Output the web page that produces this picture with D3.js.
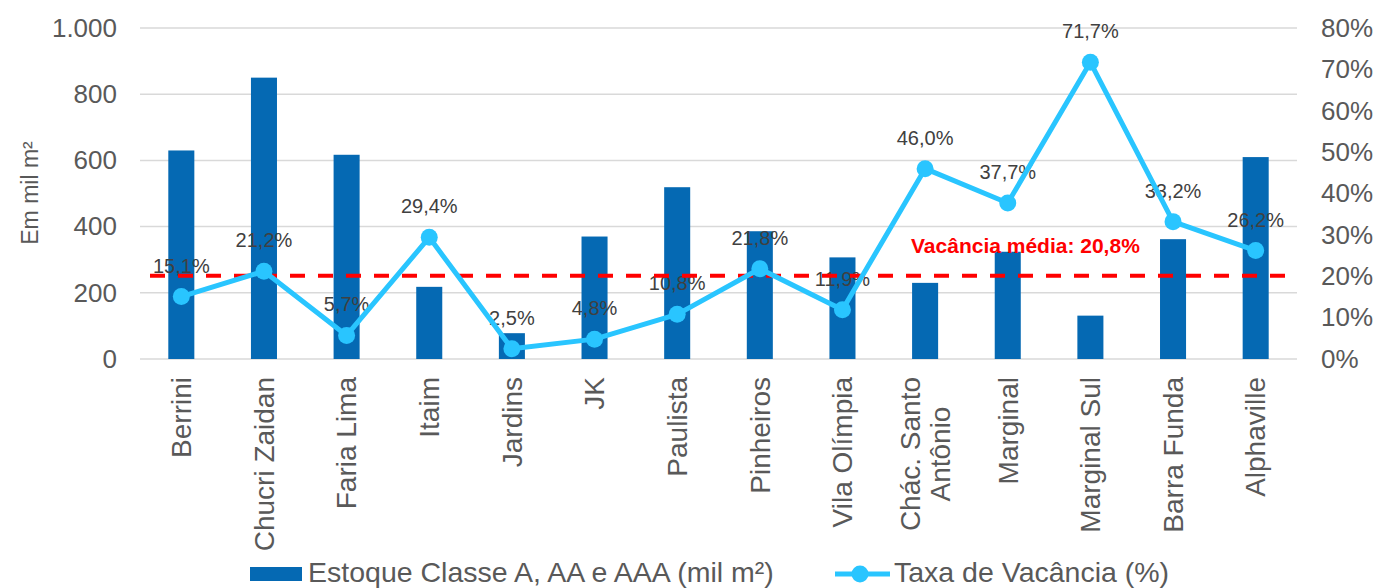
<!DOCTYPE html>
<html>
<head>
<meta charset="utf-8">
<script src="https://cdn.jsdelivr.net/npm/d3@7"></script>
<style>
  html, body { margin: 0; padding: 0; background: #fff; }
  svg { display: block; font-family: "Liberation Sans", Arial, sans-serif; }
</style>
</head>
<body>
<svg id="chart" width="1382" height="588"></svg>
<script>
// ---- data ----
const categories = ["Berrini", "Chucri Zaidan", "Faria Lima", "Itaim", "Jardins", "JK", "Paulista",
  "Pinheiros", "Vila Olímpia", "Chác. Santo\nAntônio", "Marginal", "Marginal Sul", "Barra Funda", "Alphaville"];
const stock = [630, 850, 617, 218, 78, 370, 519, 386, 307, 230, 324, 131, 362, 610];
const vacancy = [15.1, 21.2, 5.7, 29.4, 2.5, 4.8, 10.8, 21.8, 11.9, 46.0, 37.7, 71.7, 33.2, 26.2];
const leftTicks = [0, 200, 400, 600, 800, 1000];
const rightTicks = [0, 10, 20, 30, 40, 50, 60, 70, 80];
const avgVacancyLabel = "Vacância média: 20,8%";
const avgLineValue = 20.1;
const seriesNames = ["Estoque Classe A, AA e AAA (mil m²)", "Taxa de Vacância (%)"];
const leftAxisTitle = "Em mil m²";

// ---- styles ----
const barColor = "#0569b3";
const lineColor = "#29c5ff";
const gridColor = "#d9d9d9";
const axisText = "#595959";
const labelText = "#404040";

const svg = d3.select("#chart");
const plot = { left: 140, right: 1297, top: 28, bottom: 359 };

const x = d3.scaleBand().domain(categories).range([plot.left, plot.right])
  .paddingInner(0.685).paddingOuter(0.3425);
const yL = d3.scaleLinear().domain([0, 1000]).range([plot.bottom, plot.top]);
const yR = d3.scaleLinear().domain([0, 80]).range([plot.bottom, plot.top]);
const cx = c => x(c) + x.bandwidth() / 2;

const fmtL = d3.formatLocale({ decimal: ",", thousands: ".", grouping: [3], currency: ["", ""] }).format(",.0f");
const fmtPct = v => v.toFixed(1).replace(".", ",") + "%";

// gridlines
svg.append("g").selectAll("line").data(leftTicks).join("line")
  .attr("x1", plot.left).attr("x2", plot.right)
  .attr("y1", d => yL(d)).attr("y2", d => yL(d))
  .attr("stroke", gridColor).attr("stroke-width", 1.5);

// left axis
const axL = d3.axisLeft(yL).tickValues(leftTicks).tickFormat(fmtL).tickSize(0).tickPadding(0);
svg.append("g").attr("transform", `translate(117,0)`).call(axL)
  .call(g => g.select(".domain").remove())
  .selectAll("text").attr("fill", axisText).attr("font-size", 26).attr("font-family", "Liberation Sans, Arial, sans-serif");

// right axis
const axR = d3.axisRight(yR).tickValues(rightTicks).tickFormat(d => d + "%").tickSize(0).tickPadding(0);
svg.append("g").attr("transform", `translate(1321,0)`).call(axR)
  .call(g => g.select(".domain").remove())
  .selectAll("text").attr("fill", axisText).attr("font-size", 26).attr("font-family", "Liberation Sans, Arial, sans-serif");

// left axis title
svg.append("text").attr("transform", "translate(38,193) rotate(-90)")
  .attr("text-anchor", "middle").attr("fill", axisText).attr("font-size", 23)
  .text(leftAxisTitle);

// bars
svg.append("g").selectAll("rect").data(stock).join("rect")
  .attr("x", (d, i) => x(categories[i])).attr("width", x.bandwidth())
  .attr("y", d => yL(d)).attr("height", d => yL(0) - yL(d))
  .attr("fill", barColor);

// category labels
const catG = svg.append("g");
categories.forEach(c => {
  const lines = c.split("\n");
  const t = catG.append("text")
    .attr("transform", `translate(${cx(c)},377) rotate(-90)`)
    .attr("fill", axisText).attr("font-size", 28);
  if (lines.length === 1) {
    t.attr("text-anchor", "end").attr("dy", "0.35em").text(c);
  } else {
    const spans = lines.map((l, k) => t.append("tspan").attr("text-anchor", "middle")
      .attr("y", 0).attr("dy", (9.8 + (k - (lines.length - 1) / 2) * 30) + "px").text(l));
    const maxLen = d3.max(spans, s => s.node().getComputedTextLength());
    spans.forEach(s => s.attr("x", -maxLen / 2));
  }
});

// data labels
svg.append("g").selectAll("text").data(vacancy).join("text")
  .attr("x", (d, i) => cx(categories[i])).attr("y", d => yR(d) - 24)
  .attr("text-anchor", "middle").attr("fill", labelText).attr("font-size", 20)
  .text(fmtPct);

// average line
svg.append("line").attr("x1", 150).attr("x2", plot.right)
  .attr("y1", yR(avgLineValue)).attr("y2", yR(avgLineValue))
  .attr("stroke", "#ff0000").attr("stroke-width", 4).attr("stroke-dasharray", "15,13");

// vacancy line
const line = d3.line().x((d, i) => cx(categories[i])).y(d => yR(d));
svg.append("path").datum(vacancy).attr("d", line)
  .attr("fill", "none").attr("stroke", lineColor).attr("stroke-width", 5).attr("stroke-linejoin", "round");
svg.append("g").selectAll("circle").data(vacancy).join("circle")
  .attr("cx", (d, i) => cx(categories[i])).attr("cy", d => yR(d)).attr("r", 8.5)
  .attr("fill", lineColor);

// average label
svg.append("text").attr("x", 911).attr("y", 253)
  .attr("fill", "#ff0000").attr("font-size", 21).attr("font-weight", "bold")
  .text(avgVacancyLabel);

// legend
const lg = svg.append("g");
lg.append("rect").attr("x", 250).attr("y", 567).attr("width", 52).attr("height", 14).attr("fill", barColor);
lg.append("text").attr("x", 308).attr("y", 582).attr("fill", axisText).attr("font-size", 28.5).text(seriesNames[0]);
lg.append("line").attr("x1", 835).attr("x2", 890).attr("y1", 574).attr("y2", 574)
  .attr("stroke", lineColor).attr("stroke-width", 5);
lg.append("circle").attr("cx", 860).attr("cy", 574).attr("r", 8.5).attr("fill", lineColor);
lg.append("text").attr("x", 894).attr("y", 582).attr("fill", axisText).attr("font-size", 28.5).text(seriesNames[1]);
</script>
</body>
</html>
